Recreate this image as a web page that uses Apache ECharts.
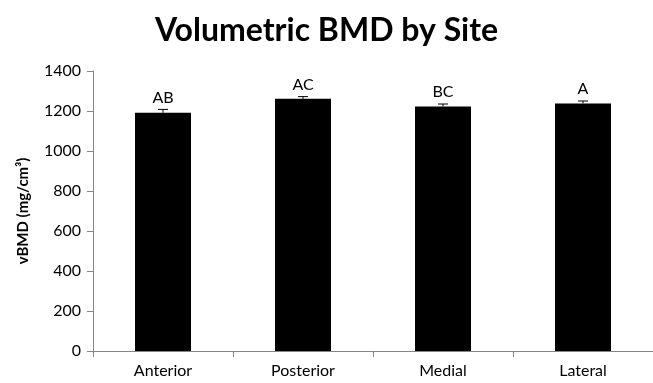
<!DOCTYPE html>
<html>
<head>
<meta charset="utf-8">
<script src="https://cdn.jsdelivr.net/npm/echarts@6/dist/echarts.min.js"></script>
<style>
  html, body { margin: 0; padding: 0; background: #fff; }
  #chart { width: 653px; height: 383px; }
</style>
</head>
<body>
<div id="chart"></div>
<script>
// Volumetric bone mineral density by measurement site
const sites = ['Anterior', 'Posterior', 'Medial', 'Lateral'];
const vbmd = [1191, 1261, 1223, 1238];
const sem = [17, 11, 12, 12];
const groupLetters = ['AB', 'AC', 'BC', 'A'];
const yTicks = [0, 200, 400, 600, 800, 1000, 1200, 1400];

const font = 'Lato, "Open Sans", sans-serif';
const chart = echarts.init(document.getElementById('chart'));

chart.setOption({
  animation: false,
  title: {
    text: 'Volumetric BMD by Site',
    left: 'center',
    top: 10,
    textStyle: { fontFamily: font, fontWeight: 'bold', fontSize: 32, color: '#000' }
  },
  grid: { left: 93, right: 0, top: 71, bottom: 32 },
  xAxis: {
    type: 'category',
    data: sites,
    axisLine: { lineStyle: { color: '#868686', width: 1 } },
    axisTick: { show: true, length: 6, alignWithLabel: false, lineStyle: { color: '#868686' } },
    axisLabel: { fontFamily: font, fontSize: 16, color: '#000', margin: 12 }
  },
  yAxis: {
    type: 'value',
    min: yTicks[0],
    max: yTicks[yTicks.length - 1],
    interval: 200,
    name: 'vBMD (mg/cm³)',
    nameLocation: 'middle',
    nameGap: 62,
    nameTextStyle: { fontFamily: font, fontWeight: 'bold', fontSize: 15, color: '#000' },
    axisLine: { show: true, lineStyle: { color: '#868686', width: 1 } },
    axisTick: { show: true, length: 6, lineStyle: { color: '#868686' } },
    axisLabel: { fontFamily: font, fontSize: 16, color: '#000', margin: 12, formatter: v => String(v) },
    splitLine: { show: false }
  },
  series: [
    {
      type: 'bar',
      data: vbmd,
      barWidth: '40%',
      itemStyle: { color: '#000' }
    },
    {
      // error bars (+1 SEM) with group letters above
      type: 'custom',
      data: vbmd.map((v, i) => [i, v, v + sem[i]]),
      renderItem: function (params, api) {
        const x = api.coord([api.value(0), api.value(1)])[0];
        const yBase = api.coord([api.value(0), api.value(1)])[1];
        const yTop = api.coord([api.value(0), api.value(2)])[1];
        const half = 5;
        const style = { stroke: '#000', lineWidth: 1 };
        return {
          type: 'group',
          children: [
            { type: 'line', shape: { x1: x, y1: yBase, x2: x, y2: yTop }, style },
            { type: 'line', shape: { x1: x - half, y1: yTop, x2: x + half, y2: yTop }, style },
            {
              type: 'text',
              style: {
                text: groupLetters[params.dataIndex],
                x: x,
                y: yTop - 4,
                align: 'center',
                verticalAlign: 'bottom',
                font: '16px ' + font,
                fill: '#000'
              }
            }
          ]
        };
      },
      z: 3
    }
  ]
});
</script>
</body>
</html>
